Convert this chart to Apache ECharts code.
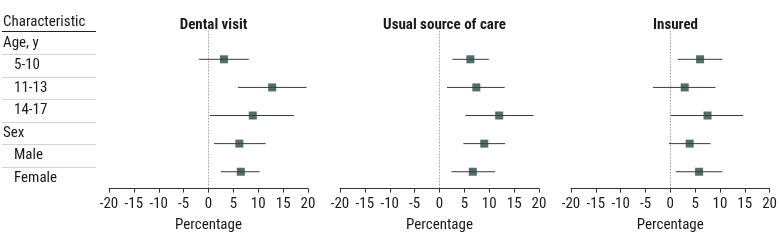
<!DOCTYPE html>
<html>
<head>
<meta charset="utf-8">
<script src="https://cdn.jsdelivr.net/npm/echarts@6/dist/echarts.min.js"></script>
<style>
  html, body { margin: 0; padding: 0; background: #fff; }
  #chart { width: 780px; height: 241px; }
</style>
</head>
<body>
<div id="chart"></div>
<script>
// table on the left
const tableHeader = "Characteristic";
const tableLabels = ["Age, y", "5-10", "11-13", "14-17", "Sex", "Male", "Female"];
const tableIndent = [false, true, true, true, false, true, true];

// forest rows (top to bottom)
const rows = ["5-10", "11-13", "14-17", "Male", "Female"];
const panelTitles = ["Dental visit", "Usual source of care", "Insured"];

const dentalEst = [3.1, 12.8, 8.9, 6.2, 6.5];
const dentalLow = [-1.9, 5.9, 0.3, 1.1, 2.5];
const dentalHigh = [8.1, 19.7, 17.2, 11.5, 10.3];

const usualEst = [6.2, 7.4, 12.0, 9.0, 6.7];
const usualLow = [2.6, 1.5, 5.2, 4.8, 2.4];
const usualHigh = [9.9, 13.1, 18.9, 13.2, 11.2];

const insuredEst = [6.0, 2.9, 7.5, 3.9, 5.8];
const insuredLow = [1.5, -3.5, 0.1, -0.3, 1.1];
const insuredHigh = [10.5, 9.1, 14.7, 8.1, 10.5];

const xMin = -20;
const xMax = 20;
const xStep = 5;
const xName = "Percentage";

const FONT = "'Roboto Condensed', 'DejaVu Sans Condensed', sans-serif";
const TEXT = "#1a1a1a";
const MARK = "#284846";

const panels = [
  { est: dentalEst, low: dentalLow, high: dentalHigh },
  { est: usualEst, low: usualLow, high: usualHigh },
  { est: insuredEst, low: insuredLow, high: insuredHigh },
];
const gridLeft = [109, 340, 571];
const gridWidth = 199;
const gridTop = 31.2;
const gridHeight = 157.4;

const chart = echarts.init(document.getElementById("chart"));

const grids = [];
const xAxes = [];
const yAxes = [];
const titles = [];
const series = [];

panels.forEach((p, i) => {
  grids.push({ left: gridLeft[i], top: gridTop, width: gridWidth, height: gridHeight });
  titles.push({
    text: panelTitles[i],
    left: gridLeft[i] + gridWidth / 2,
    top: 13,
    textAlign: "center",
    textStyle: { fontFamily: FONT, fontSize: 15, fontWeight: "bold", color: TEXT },
  });
  xAxes.push({
    gridIndex: i,
    type: "value",
    min: xMin,
    max: xMax,
    interval: xStep,
    name: xName,
    nameLocation: "middle",
    nameGap: 29,
    nameTextStyle: { fontFamily: FONT, fontSize: 15, color: TEXT },
    axisLine: { show: true, onZero: false, lineStyle: { color: "#333", width: 1 } },
    axisTick: { show: true, length: 4, lineStyle: { color: "#333" } },
    axisLabel: { fontFamily: FONT, fontSize: 15, color: TEXT, margin: 8 },
    splitLine: { show: false },
  });
  yAxes.push({
    gridIndex: i,
    type: "value",
    inverse: true,
    min: 0,
    max: 5.6,
    axisLine: { show: true, onZero: true, lineStyle: { color: "#aaa", type: [1, 2], width: 1 } },
    axisTick: { show: false },
    axisLabel: { show: false },
    splitLine: { show: false },
  });
  series.push({
    type: "custom",
    xAxisIndex: i,
    yAxisIndex: i,
    data: rows.map((r, k) => [p.low[k], p.high[k], k + 1]),
    renderItem: (params, api) => {
      const a = api.coord([api.value(0), api.value(2)]);
      const b = api.coord([api.value(1), api.value(2)]);
      return {
        type: "line",
        shape: { x1: a[0], y1: a[1], x2: b[0], y2: b[1] },
        style: { stroke: "#3a3a3a", lineWidth: 1 },
      };
    },
    silent: true,
  });
  series.push({
    type: "scatter",
    xAxisIndex: i,
    yAxisIndex: i,
    symbol: "rect",
    symbolSize: 8,
    itemStyle: { color: MARK },
    data: rows.map((r, k) => [p.est[k], k + 1]),
    z: 5,
  });
});

// left table
const graphics = [
  {
    type: "text",
    left: 3,
    top: 15,
    style: { text: tableHeader, font: "15px " + FONT, fill: TEXT },
  },
  {
    type: "line",
    shape: { x1: 2, y1: 31.5, x2: 96, y2: 31.5 },
    style: { stroke: "#222", lineWidth: 1 },
  },
];
tableLabels.forEach((lab, k) => {
  const yc = 43 + k * 22.5;
  graphics.push({
    type: "text",
    left: tableIndent[k] ? 14 : 3,
    top: yc - 7.5,
    style: { text: lab, font: "15px " + FONT, fill: TEXT },
  });
  if (k < tableLabels.length - 1) {
    const ys = Math.round(yc + 11.25) + 0.5;
    graphics.push({
      type: "line",
      shape: { x1: 2, y1: ys, x2: 96, y2: ys },
      style: { stroke: "#d4d4d4", lineWidth: 1 },
    });
  }
});

chart.setOption({
  animation: false,
  title: titles,
  grid: grids,
  xAxis: xAxes,
  yAxis: yAxes,
  series: series,
  graphic: graphics,
});
</script>
</body>
</html>
